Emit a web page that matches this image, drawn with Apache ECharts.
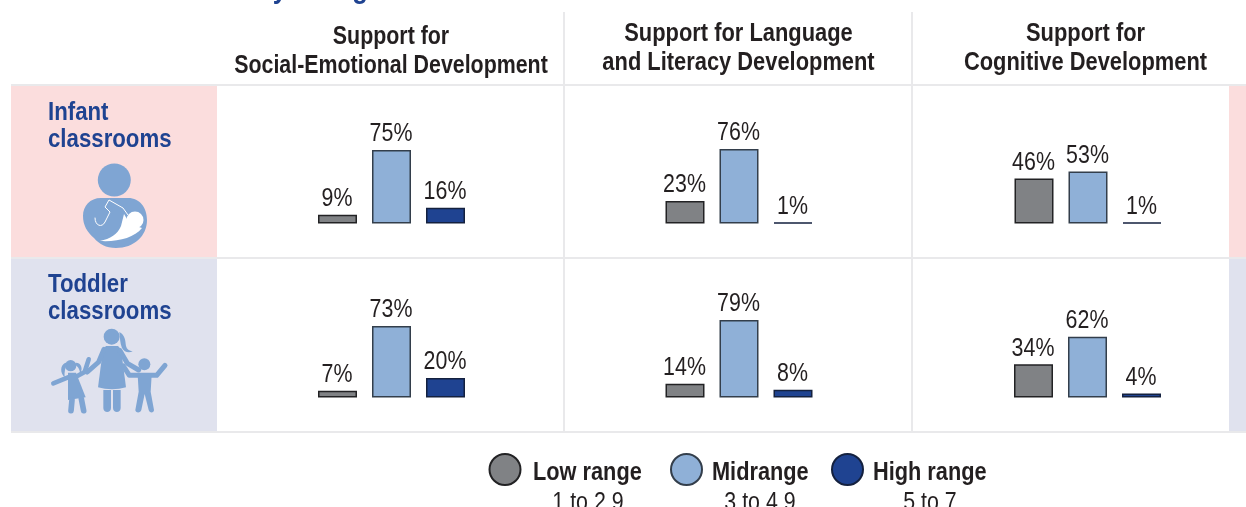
<!DOCTYPE html>
<html>
<head>
<meta charset="utf-8">
<style>
html, body { margin: 0; padding: 0; background: #fff; }
#main { width: 1246px; height: 507px; }
</style>
<script src="https://cdn.jsdelivr.net/npm/echarts@6/dist/echarts.min.js"></script>
</head>
<body>
<div id="main"></div>
<script>
// values
var ranges = ['Low range', 'Midrange', 'High range'];
var rangeNotes = ['1 to 2.9', '3 to 4.9', '5 to 7'];
var rangeColors = ['#808285', '#8FB0D7', '#1F4391'];
var rangeBorders = ['#222224', '#333e4b', '#14213f'];
var infantSocial = [9, 75, 16];
var infantLanguage = [23, 76, 1];
var infantCognitive = [46, 53, 1];
var toddlerSocial = [7, 73, 20];
var toddlerLanguage = [14, 79, 8];
var toddlerCognitive = [34, 62, 4];
var panelValues = [infantSocial, infantLanguage, infantCognitive, toddlerSocial, toddlerLanguage, toddlerCognitive];
var panelLeft = [310.5, 658, 1007, 310.5, 658, 1006.5];
var panelTop = [125.5, 125.5, 125.5, 299.5, 299.5, 299.5];
var headers = [
	['Support for', 'Social-Emotional Development', 391, 37.5, 0.855],
	['Support for Language', 'and Literacy Development', 738.5, 34.5, 0.875],
	['Support for', 'Cognitive Development', 1085.5, 34.5, 0.875]
];

// no narrow face is installed, so text is squeezed horizontally
var FONT = '"Liberation Sans", sans-serif';
var SQUEEZE = 0.855;
var DARK = '#231F20';
var BLUE = '#1F4391';
var ICON = '#7FA5D3';
var LINE = '#E9E9EB';

//柱顶的百分比文字
function renderValueLabel(params, api) {
	var pos = api.coord([api.value(0), api.value(1)]);
	return {
		type: 'text',
		x: pos[0] - 0.5,
		y: pos[1] - 15.5,
		scaleX: SQUEEZE,
		silent: true,
		style: {
			text: api.value(1) + '%',
			fontFamily: FONT,
			fontSize: 25,
			fill: DARK,
			align: 'center',
			verticalAlign: 'middle'
		}
	};
}

var grids = [], xAxes = [], yAxes = [], series = [];
for (var p = 0; p < panelValues.length; p++) {
	grids.push({ left: panelLeft[p], top: panelTop[p], width: 162, height: 98 });
	xAxes.push({ type: 'category', gridIndex: p, data: ranges, show: false });
	yAxes.push({ type: 'value', gridIndex: p, min: 0, max: 100, show: false });
	var labelData = [];
	for (var r = 0; r < ranges.length; r++) {
		var data = [null, null, null];
		data[r] = panelValues[p][r];
		labelData.push([r, panelValues[p][r]]);
		series.push({
			name: ranges[r],
			type: 'bar',
			xAxisIndex: p,
			yAxisIndex: p,
			stack: 'panel' + p,
			barWidth: 39,
			data: data,
			itemStyle: { color: rangeColors[r], borderColor: rangeBorders[r], borderWidth: 1.5 },
			silent: true
		});
	}
	series.push({
		type: 'custom',
		xAxisIndex: p,
		yAxisIndex: p,
		data: labelData,
		renderItem: renderValueLabel,
		silent: true
	});
}

var legends = [];
var legendLeft = [488.5, 670, 831];
for (var l = 0; l < ranges.length; l++) {
	legends.push({
		data: [ranges[l]],
		left: legendLeft[l],
		top: 453,
		padding: 0,
		itemWidth: 31,
		itemHeight: 31,
		icon: 'circle',
		selectedMode: false,
		formatter: function () { return ''; }
	});
}

function rect(x, y, w, h, fill) {
	return { type: 'rect', silent: true, shape: { x: x, y: y, width: w, height: h }, style: { fill: fill } };
}
function txt(s, x, y, size, weight, color, align, squeeze) {
	return {
		type: 'text', silent: true, x: x, y: y, scaleX: squeeze || SQUEEZE,
		style: { text: s, fontFamily: FONT, fontSize: size, fontWeight: weight, fill: color, align: align || 'center', verticalAlign: 'middle' }
	};
}
function circle(cx, cy, rr, fill) {
	return { type: 'circle', silent: true, shape: { cx: cx, cy: cy, r: rr }, style: { fill: fill } };
}
// graphic has no plain path type, so each icon outline is registered as a shape
var shapeCount = 0;
function path(d, fill, stroke, w) {
	var name = 'iconShape' + (shapeCount++);
	echarts.graphic.registerShape(name, echarts.graphic.extendPath(d));
	return {
		type: name, silent: true,
		style: { fill: fill, stroke: stroke || null, lineWidth: w || 0, lineCap: 'round', lineJoin: 'round' }
	};
}

// mother with baby, in pixels of the page
var infantIcon = [
	circle(114.3, 180, 16.5, ICON),
	path('M101 198 L128 198 C140 198 147 208 147 220 C147 236 134 248 116 248 C106 248 99 244 94 238 C87 232 83 225 83 216 C83 206 90 198 101 198 Z', ICON),
	path('M124 214 L130 224 L142 228 C134 238 118 242 100 241 C110 239 118 234 121 226 Z', '#fff'),
	circle(135, 220, 8.5, '#fff'),
	path('M95 218 C95 226 102 228 105 222 L110 212 L105 207 L109 200 L123 208 L128 215', 'none', '#fff', 1)
];

// mother and two children, drawn in 3x units then scaled down
var toddlerIcon = {
	type: 'group', x: 40, y: 320, scaleX: 1 / 3, scaleY: 1 / 3, silent: true,
	children: [
		circle(215, 50, 24, ICON),
		path('M238 36 C256 46 256 62 258 78 C260 88 268 92 278 94 C266 100 252 96 246 84 C240 70 240 52 238 36 Z', ICON),
		path('M198 78 L234 78 C242 84 244 96 246 110 L258 202 C232 210 200 210 174 202 L186 110 C188 96 190 84 198 78 Z', ICON),
		path('M192 88 L176 126 L142 156', 'none', ICON, 15),
		path('M240 92 L262 130 L296 150', 'none', ICON, 15),
		path('M190 210 L213 210 L213 264 C213 280 190 280 190 264 Z', ICON),
		path('M219 210 L242 210 L242 264 C242 280 219 280 219 264 Z', ICON),
		circle(92, 137, 17, ICON),
		path('M76 128 C60 136 60 158 74 172 C72 156 76 142 82 132 Z', ICON),
		path('M108 128 C124 128 130 146 120 162 C120 150 116 140 104 134 Z', ICON),
		path('M40 190 L84 172 L112 168 L134 156 L146 118', 'none', ICON, 14),
		path('M84 158 L108 158 L137 232 L84 240 Z', ICON),
		path('M96 240 L93 272', 'none', ICON, 17),
		path('M124 236 L131 272', 'none', ICON, 17),
		circle(313, 133, 18, ICON),
		path('M250 138 L268 166 L350 166 L375 136', 'none', ICON, 15),
		path('M293 165 L335 165 L332 215 L342 270 C342 280 328 280 326 270 L314 222 L304 270 C302 280 286 280 286 270 L296 215 Z', ICON)
	]
};

var graphics = [
	// row backgrounds
	rect(11, 86, 206, 171, '#FBDDDD'),
	rect(1229, 86, 17, 171, '#FBDDDD'),
	rect(11, 259, 206, 172, '#E0E2EE'),
	rect(1229, 259, 17, 172, '#E0E2EE'),
	// table lines
	rect(11, 84, 1235, 2, LINE),
	rect(11, 257, 1235, 2, LINE),
	rect(11, 431, 1235, 2, LINE),
	rect(563, 12, 2, 420, LINE),
	rect(911, 12, 2, 420, LINE),
	// what is left of the cropped title
	txt('y', 280, -10, 30, 'bold', BLUE),
	txt('g', 360, -10, 30, 'bold', BLUE),
	// row labels
	txt('Infant', 48, 113, 26, 'bold', BLUE, 'left'),
	txt('classrooms', 48, 140, 26, 'bold', BLUE, 'left'),
	txt('Toddler', 48, 285, 26, 'bold', BLUE, 'left'),
	txt('classrooms', 48, 312, 26, 'bold', BLUE, 'left')
].concat(infantIcon, [toddlerIcon]);

for (var h = 0; h < headers.length; h++) {
	graphics.push(txt(headers[h][0], headers[h][2], headers[h][3], 25, 'bold', DARK, 'center', headers[h][4]));
	graphics.push(txt(headers[h][1], headers[h][2], headers[h][3] + 29, 25, 'bold', DARK, 'center', headers[h][4]));
}
var nameX = [533, 712, 873];
var noteX = [588, 760, 930];
for (var n = 0; n < rangeNotes.length; n++) {
	graphics.push(txt(ranges[n], nameX[n], 473, 25, 'bold', DARK, 'left', 0.87));
	graphics.push(txt(rangeNotes[n], noteX[n], 503, 25, 'normal', DARK));
}

var chart = echarts.init(document.getElementById('main'));
var option = {
	animation: false,
	legend: legends,
	grid: grids,
	xAxis: xAxes,
	yAxis: yAxes,
	series: series,
	graphic: { elements: graphics }
};
chart.setOption(option);
</script>
</body>
</html>
